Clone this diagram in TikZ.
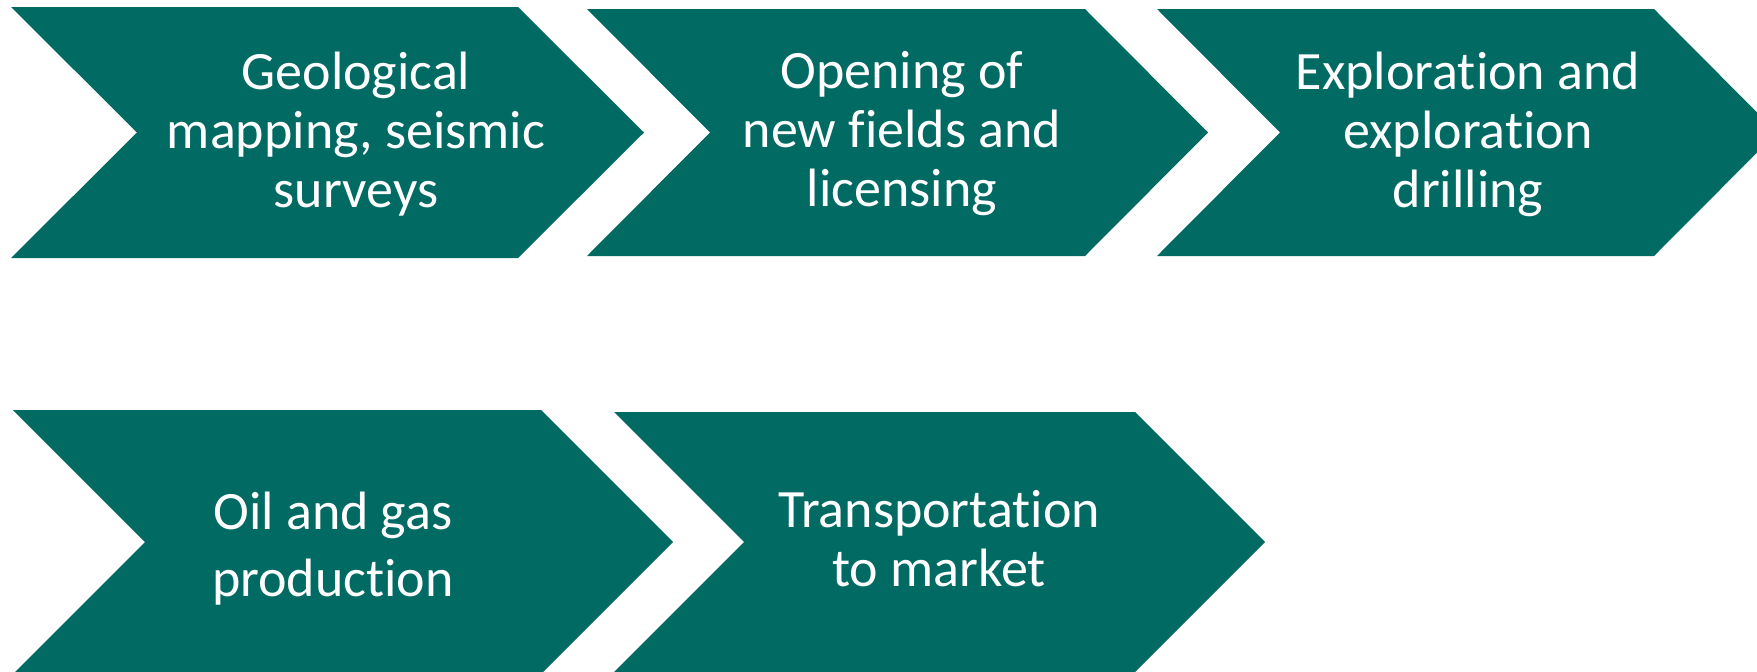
\documentclass[tikz,border=0pt]{standalone}
\usepackage{fontspec}
\setmainfont{Carlito}[Ligatures=NoCommon]
\definecolor{teal}{RGB}{0,106,99}
\begin{document}
\begin{tikzpicture}[x=1pt,y=-1pt,
  chev/.style={fill=teal},
  label/.style={text=white,align=center,inner sep=0pt,
    font=\fontsize{54}{59}\selectfont}]
\useasboundingbox (0,0) rectangle (1757,672);
\clip (0,0) rectangle (1757,672);
% top row
\fill[chev] (11,7) -- (518,7) -- (644,132.5) -- (518,258) -- (11,258) -- (137,132.5) -- cycle;
\fill[chev] (587,9) -- (1085,9) -- (1208,132.5) -- (1085,256) -- (587,256) -- (710,132.5) -- cycle;
\fill[chev] (1157,9) -- (1654,9) -- (1777,132.5) -- (1654,256) -- (1157,256) -- (1280,132.5) -- cycle;
% bottom row
\fill[chev] (13,410) -- (541,410) -- (673,542) -- (541,674) -- (13,674) -- (145,542) -- cycle;
\fill[chev] (614,412) -- (1135,412) -- (1265,542) -- (1135,672) -- (614,672) -- (744,542) -- cycle;
% labels
\node[label] (t1) at (356,134) {Geological\\mapping, seismic\\surveys};
\node[label] (t2) at (902,134) {Opening of\\new fields and\\licensing};
\node[label] (t3) at (1468,134) {Exploration and\\exploration\\drilling};
\node[label,font=\fontsize{54}{67}\selectfont] (t4) at (333,549) {Oil and gas\\production};
\node[label] (t5) at (939,539) {Transportation\\to market};
\end{tikzpicture}
\end{document}
